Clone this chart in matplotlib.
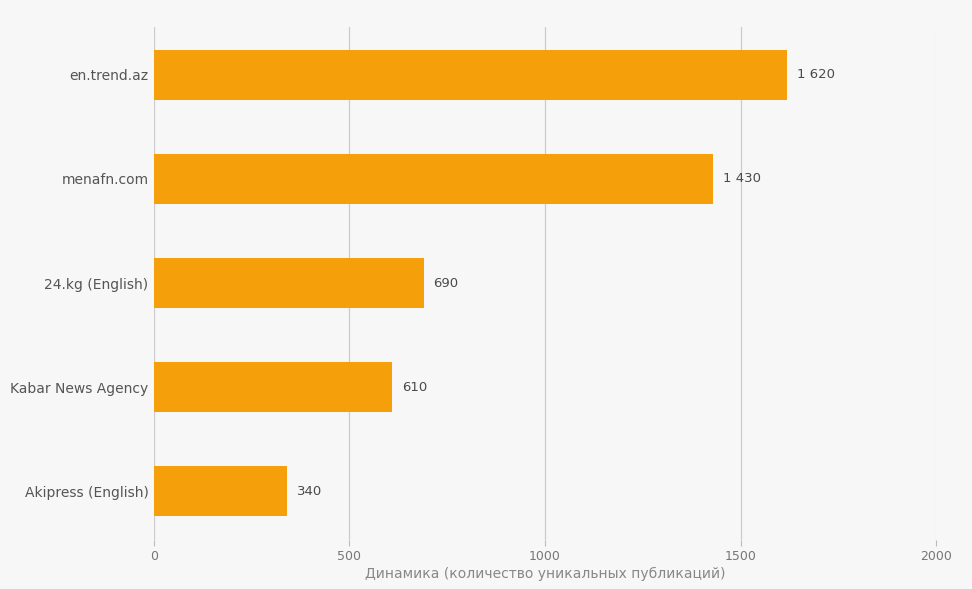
import matplotlib
matplotlib.use('Agg')
import matplotlib.pyplot as plt

# Data
sources = ['en.trend.az', 'menafn.com', '24.kg (English)', 'Kabar News Agency', 'Akipress (English)']
counts = [1620, 1430, 690, 610, 340]
xticks = [0, 500, 1000, 1500, 2000]

bg = '#f7f7f7'
fig = plt.figure(figsize=(9.72, 5.89), dpi=100, facecolor=bg)
ax = fig.add_axes([0.1584, 0.0832, 0.8046, 0.8708], facecolor=bg)

y = list(range(len(sources)))
ax.barh(y, counts, height=0.48, color='#f5a00a', zorder=2)

for yi, v in zip(y, counts):
    label = f'{v:,}'.replace(',', ' ')
    ax.annotate(label, (v, yi), xytext=(7, 0), textcoords='offset points',
                va='center', ha='left', fontsize=9.5, color='#4a4a4a')

ax.set_xlim(0, 2000)
ax.set_ylim(len(sources) - 0.53, -0.46)
ax.set_yticks(y)
ax.set_yticklabels(sources, fontsize=10, color='#555555')
ax.set_xticks(xticks)
ax.set_xticklabels([str(t) for t in xticks], fontsize=9, color='#777777')

for t in xticks[:-1]:
    ax.axvline(t, color='#cccccc', lw=0.9, zorder=1)
ax.axvline(2000, color='#eeeeee', lw=0.9, zorder=1)

for s in ax.spines.values():
    s.set_visible(False)
ax.tick_params(axis='y', length=0, pad=4)
ax.tick_params(axis='x', length=4, color='#bbbbbb', pad=3, direction='out')

ax.set_xlabel('Динамика (количество уникальных публикаций)', fontsize=10,
              color='#888888', labelpad=3)

fig.savefig('out.png', dpi=100, facecolor=bg)
